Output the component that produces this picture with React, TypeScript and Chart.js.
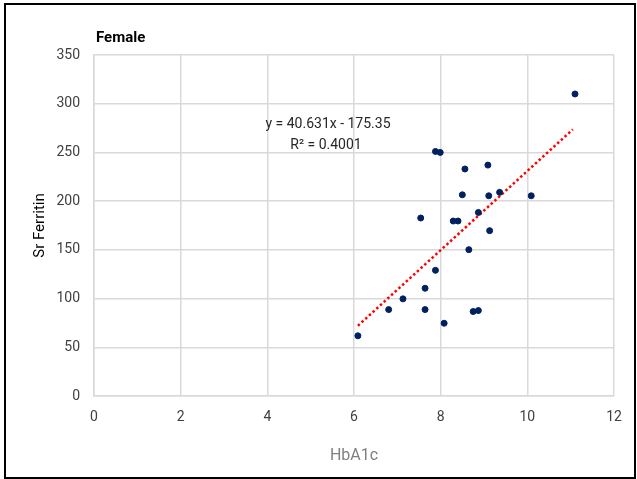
import React, { useEffect, useRef } from "react";
import { Chart, registerables } from "chart.js";

Chart.register(...registerables);

const hba1c = [11.1, 7.88, 7.99, 8.56, 9.09, 8.5, 9.11, 9.36, 10.09, 7.54, 8.29, 8.4, 8.87, 9.13, 8.65, 7.88, 7.64, 7.13, 6.8, 7.64, 8.75, 8.87, 8.08, 6.09];
const ferritin = [310, 251, 250, 233, 237, 206.5, 205.5, 209, 205.5, 182.7, 179.6, 179.6, 188.4, 169.7, 150.2, 129, 110.6, 99.7, 88.7, 88.7, 86.7, 87.7, 74.7, 61.8];
const slope = 40.631;
const intercept = -175.35;
const trendX = [6.09, 11.05];
const equationText = "y = 40.631x - 175.35";
const r2Text = "R² = 0.4001";
const xTicks = [0, 2, 4, 6, 8, 10, 12];
const yTicks = [0, 50, 100, 150, 200, 250, 300, 350];

const FONT = "Roboto, 'Noto Sans', sans-serif";

export default function App() {
  const ref = useRef<HTMLCanvasElement>(null);
  useEffect(() => {
    document.body.style.margin = "0";
    const textPlugin = {
      id: "texts",
      afterDraw(chart: any) {
        const { ctx, chartArea, scales } = chart;
        ctx.save();
        ctx.fillStyle = "#000";
        ctx.font = `bold 15px ${FONT}`;
        ctx.textAlign = "left";
        ctx.textBaseline = "alphabetic";
        ctx.fillText("Female", chartArea.left + 2, 42);
        // equation
        ctx.font = `14px ${FONT}`;
        ctx.fillStyle = "#262626";
        ctx.textAlign = "center";
        const ex = scales.x.getPixelForValue(5.4);
        const ey = scales.y.getPixelForValue(280);
        ctx.fillText(equationText, ex, ey + 5);
        ctx.fillText(r2Text, ex - 2, ey + 26);
        // y title
        ctx.save();
        ctx.translate(40, (chartArea.top + chartArea.bottom) / 2);
        ctx.rotate(-Math.PI / 2);
        ctx.font = `15px ${FONT}`;
        ctx.fillStyle = "#000";
        ctx.textBaseline = "middle";
        ctx.fillText("Sr Ferritin", 0, 0);
        ctx.restore();
        // x title
        ctx.font = `16px ${FONT}`;
        ctx.fillStyle = "#808080";
        ctx.textBaseline = "middle";
        ctx.fillText("HbA1c", (chartArea.left + chartArea.right) / 2, 456);
        ctx.restore();
      },
    };
    const chart = new Chart(ref.current!, {
      type: "scatter",
      data: {
        datasets: [
          {
            label: "trend",
            type: "line",
            data: trendX.map((x) => ({ x, y: slope * x + intercept })),
            borderColor: "#ff0000",
            borderWidth: 2.5,
            borderDash: [2.5, 2.5],
            pointRadius: 0,
            fill: false,
            order: 1,
          } as any,
          {
            label: "Female",
            data: hba1c.map((x, i) => ({ x, y: ferritin[i] })),
            backgroundColor: "#002060",
            borderColor: "#002060",
            pointRadius: 3,
            order: 0,
          },
        ],
      },
      options: {
        animation: false,
        responsive: false,
        layout: { padding: { top: 55, right: 23, left: 0, bottom: 0 } },
        plugins: { legend: { display: false }, tooltip: { enabled: false }, title: { display: false } },
        scales: {
          x: {
            type: "linear",
            min: 0,
            max: 12,
            afterBuildTicks: (s: any) => { s.ticks = xTicks.map((v) => ({ value: v })); },
            afterFit: (s: any) => { s.height = 479 - 396; },
            grid: { color: "#d9d9d9", lineWidth: 1.5, drawTicks: false },
            border: { color: "#d9d9d9", width: 1.5 },
            ticks: { padding: 13, color: "#404040", font: { family: FONT, size: 14 } },
          },
          y: {
            type: "linear",
            min: 0,
            max: 350,
            afterBuildTicks: (s: any) => { s.ticks = yTicks.map((v) => ({ value: v })); },
            afterFit: (s: any) => { s.width = 94; },
            grid: { color: "#d9d9d9", lineWidth: 1.5, drawTicks: false },
            border: { color: "#d9d9d9", width: 1.5 },
            ticks: { padding: 14, color: "#404040", font: { family: FONT, size: 14 } },
          },
        },
      },
      plugins: [textPlugin],
    });
    return () => chart.destroy();
  }, []);
  return (
    <div style={{ position: "relative", width: 637, height: 479 }}>
      <canvas ref={ref} width={637} height={479} style={{ position: "absolute", left: 0, top: 0 }} />
      <div style={{ position: "absolute", left: 4, top: 3, width: 628, height: 472, border: "2px solid #000", pointerEvents: "none" }} />
    </div>
  );
}
